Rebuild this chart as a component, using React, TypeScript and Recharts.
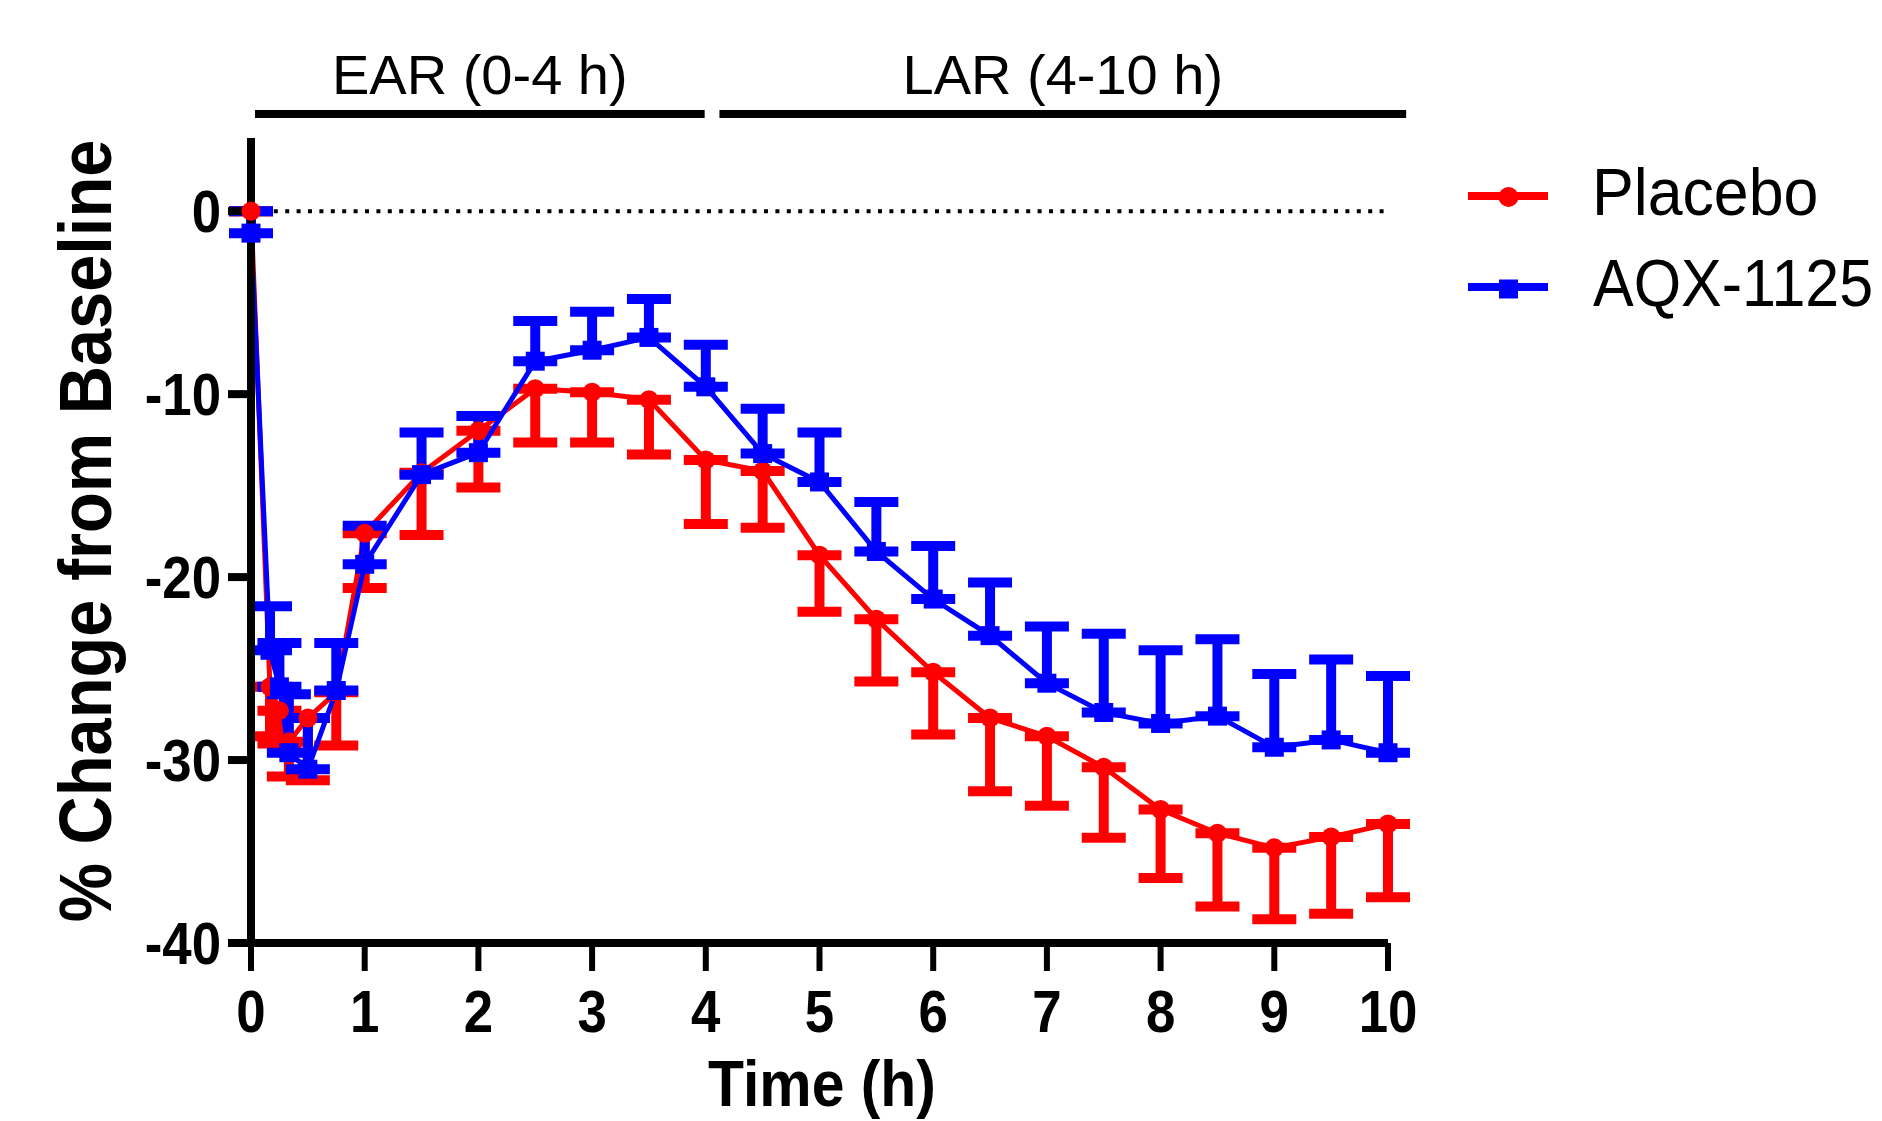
import { LineChart, Line, XAxis, YAxis, ErrorBar, ReferenceLine, Legend } from 'recharts';

const FONT = '"Liberation Sans", Arial, sans-serif';
const RED = '#ff0000';
const BLUE = '#0000ff';

// time points (h)
const times = [0, 0.167, 0.25, 0.333, 0.5, 0.75, 1, 1.5, 2, 2.5, 3, 3.5, 4, 4.5, 5, 5.5, 6, 6.5, 7, 7.5, 8, 8.5, 9, 9.5, 10];

// Placebo mean and SEM (drawn downwards)
const placebo = [0, -26.0, -27.3, -29.0, -27.7, -26.3, -17.6, -14.3, -12.0, -9.7, -9.9, -10.3, -13.6, -14.2, -18.8, -22.3, -25.2, -27.7, -28.7, -30.4, -32.7, -34.0, -34.8, -34.2, -33.5];
const placeboSem = [0, 2.7, 1.8, 1.9, 3.4, 2.9, 3.0, 3.4, 3.1, 2.95, 2.75, 3.0, 3.5, 3.1, 3.1, 3.4, 3.4, 4.0, 3.8, 3.85, 3.75, 4.0, 3.9, 4.2, 4.0];

// AQX-1125 mean and SEM (drawn upwards)
const aqx = [-1.2, -24.0, -26.0, -29.6, -30.5, -26.2, -19.3, -14.4, -13.2, -8.2, -7.6, -6.9, -9.6, -13.25, -14.8, -18.6, -21.2, -23.2, -25.8, -27.4, -28.0, -27.6, -29.3, -28.9, -29.6];
const aqxSem = [1.2, 2.4, 2.4, 3.2, 2.8, 2.6, 2.1, 2.3, 2.0, 2.2, 2.1, 2.1, 2.3, 2.45, 2.7, 2.7, 2.9, 2.9, 3.1, 4.3, 4.0, 4.2, 4.0, 4.4, 4.2];

const xTicks = [0, 1, 2, 3, 4, 5, 6, 7, 8, 9, 10];
const yTicks = [-40, -30, -20, -10, 0];

const data = times.map((t, i) => ({
  t,
  placebo: placebo[i],
  placeboErr: [placeboSem[i], 0],
  aqx: aqx[i],
  aqxErr: [0, aqxSem[i]],
}));

function XTick({ x, y, payload }: any) {
  return (
    <g transform={`translate(${x},${y})`}>
      <text transform='scale(0.88,1)' textAnchor='middle' y={61} fontSize={60} fontWeight='bold' fontFamily={FONT} fill='#000'>
        {payload.value}
      </text>
    </g>
  );
}

function YTick({ x, y, payload }: any) {
  return (
    <g transform={`translate(${x - 7},${y})`}>
      <text transform='scale(0.88,1)' textAnchor='end' y={21} fontSize={60} fontWeight='bold' fontFamily={FONT} fill='#000'>
        {payload.value}
      </text>
    </g>
  );
}

const RedDot = (props: any) => {
  const { cx, cy, index } = props;
  if (cx == null || cy == null) return <g key={`r-${index}`} />;
  return <circle key={`r-${index}`} cx={cx} cy={cy} r={9.5} fill={RED} />;
};

const BlueDot = (props: any) => {
  const { cx, cy, index } = props;
  if (cx == null || cy == null) return <g key={`b-${index}`} />;
  return <rect key={`b-${index}`} x={cx - 9.5} y={cy - 9.5} width={19} height={19} fill={BLUE} />;
};

const yTitle = () => (
  <text
    transform='translate(111,531) rotate(-90) scale(0.89,1)'
    textAnchor='middle'
    fontSize={75}
    fontWeight='bold'
    fontFamily={FONT}
    fill='#000'
  >
    % Change from Baseline
  </text>
);

// the reference crops this title at the bottom edge; keep it just inside
const xTitle = () => (
  <text transform='translate(822,1106) scale(0.92,1)' textAnchor='middle' fontSize={64} fontWeight='bold' fontFamily={FONT} fill='#000'>
    Time (h)
  </text>
);

const renderLegend = () => (
  <svg width={442} height={200} style={{ display: 'block', overflow: 'visible' }}>
    <line x1={28} x2={108} y1={56} y2={56} stroke={RED} strokeWidth={8} />
    <circle cx={68.5} cy={57} r={10} fill={RED} />
    <text transform='translate(152,75) scale(0.935,1)' fontSize={67} fontFamily={FONT} fill='#000'>
      Placebo
    </text>
    <line x1={28} x2={108} y1={147} y2={147} stroke={BLUE} strokeWidth={8} />
    <rect x={59} y={139.5} width={19} height={19} fill={BLUE} />
    <text transform='translate(153,166) scale(0.91,1)' fontSize={67} fontFamily={FONT} fill='#000'>
      AQX-1125
    </text>
  </svg>
);

export default function App() {
  return (
    <div style={{ position: 'absolute', left: 0, top: 0, width: 1882, height: 1121, overflow: 'hidden', background: '#fff' }}>
      <LineChart width={1882} height={1121} data={data} margin={{ top: 138, right: 494, bottom: 0, left: 101 }}>
        <XAxis
          type='number'
          dataKey='t'
          domain={[0, 10]}
          ticks={xTicks}
          interval={0}
          height={178}
          tickSize={28}
          tickMargin={0}
          axisLine={{ stroke: '#000', strokeWidth: 8 }}
          tickLine={{ stroke: '#000', strokeWidth: 6 }}
          tick={<XTick />}
          label={{ content: xTitle }}
        />
        <YAxis
          type='number'
          domain={[-40, 4]}
          ticks={yTicks}
          interval={0}
          width={150}
          tickSize={23}
          tickMargin={0}
          axisLine={{ stroke: '#000', strokeWidth: 8 }}
          tickLine={{ stroke: '#000', strokeWidth: 8 }}
          tick={<YTick />}
          label={{ content: yTitle }}
        />
        <ReferenceLine y={0} stroke='#000' strokeWidth={4} strokeDasharray='4 7.4' />
        <ReferenceLine
          segment={[{ x: 0.035, y: 5.31 }, { x: 3.99, y: 5.31 }]}
          ifOverflow='visible'
          stroke='#000'
          strokeWidth={8}
          label={{ value: 'EAR (0-4 h)', position: 'top', offset: 20, fontSize: 56, fill: '#000', fontFamily: FONT }}
        />
        <ReferenceLine
          segment={[{ x: 4.12, y: 5.31 }, { x: 10.16, y: 5.31 }]}
          ifOverflow='visible'
          stroke='#000'
          strokeWidth={8}
          label={{ value: 'LAR (4-10 h)', position: 'top', offset: 20, fontSize: 56, fill: '#000', fontFamily: FONT }}
        />
        <Line
          type='linear'
          dataKey='placebo'
          stroke={RED}
          strokeWidth={5}
          dot={RedDot}
          activeDot={false}
          isAnimationActive={false}
        >
          <ErrorBar dataKey='placeboErr' direction='y' width={22} strokeWidth={10} stroke={RED} isAnimationActive={false} />
        </Line>
        <Line
          type='linear'
          dataKey='aqx'
          stroke={BLUE}
          strokeWidth={5}
          dot={BlueDot}
          activeDot={false}
          isAnimationActive={false}
        >
          <ErrorBar dataKey='aqxErr' direction='y' width={22} strokeWidth={10} stroke={BLUE} isAnimationActive={false} />
        </Line>
        <Legend
          layout='horizontal'
          verticalAlign='middle'
          align='center'
          content={renderLegend}
          wrapperStyle={{ left: 1440, top: 140, width: 442, height: 200 }}
        />
      </LineChart>
    </div>
  );
}
